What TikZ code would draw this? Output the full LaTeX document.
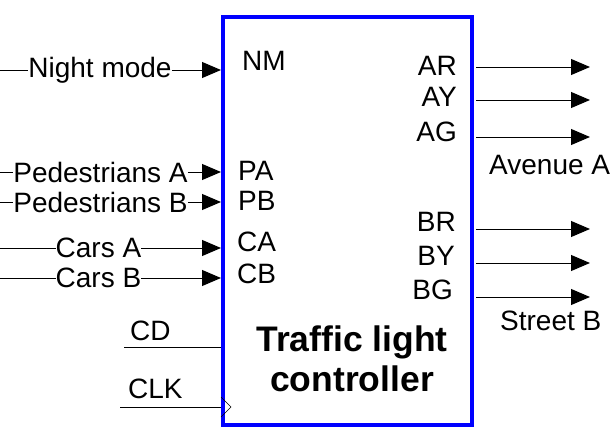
\documentclass[tikz,border=0pt]{standalone}
\usepackage{fontspec}
\setmainfont{Liberation Sans}
\usetikzlibrary{arrows.meta}

\tikzset{
    ctlbox/.style={draw=blue, line width=3.5pt},
    sig/.style={inner sep=0pt, font=\fontsize{28}{30}\selectfont},
    port/.style={inner sep=0pt, font=\fontsize{28}{30}\selectfont},
    wire/.style={line width=1pt},
    sigarrow/.style={line width=1pt, -{Triangle[length=19pt,width=16pt]}}
}

\begin{document}
\begin{tikzpicture}[x=1pt, y=-1pt]
    \useasboundingbox (0,0) rectangle (616,434);

    % Bloque
    \node[ctlbox, minimum width=249pt, minimum height=408pt, anchor=north west] (ctl) at (221,15) {};
    \node[inner sep=0pt, align=center, font=\fontsize{35.5}{40}\selectfont\bfseries] (title) at (352,359) {Traffic light\\controller};

    % Puertos de entrada
    \node[port, anchor=west] (nm) at (242,61) {NM};
    \node[port, anchor=west] (pa) at (238,171) {PA};
    \node[port, anchor=west] (pb) at (238,201) {PB};
    \node[port, anchor=west] (ca) at (237,242) {CA};
    \node[port, anchor=west] (cb) at (237,274) {CB};

    % Entradas
    \coordinate (nmL) at (0,70);   \coordinate (nmR) at (221,70);
    \coordinate (paL) at (0,172);  \coordinate (paR) at (221,172);
    \coordinate (pbL) at (0,202);  \coordinate (pbR) at (221,202);
    \coordinate (caL) at (0,248);  \coordinate (caR) at (221,248);
    \coordinate (cbL) at (0,278);  \coordinate (cbR) at (221,278);

    \node[sig] (night) at (100,70) {Night mode};
    \node[sig] (pedA) at (100.5,172) {Pedestrians A};
    \node[sig] (pedB) at (100.5,202) {Pedestrians B};
    \node[sig] (carA) at (98.5,248) {Cars A};
    \node[sig] (carB) at (98.5,278) {Cars B};

    \draw[wire] (nmL) -- (night.west);
    \draw[sigarrow] (night.east) -- (nmR);
    \draw[wire] (paL) -- (pedA.west);
    \draw[sigarrow] (pedA.east) -- (paR);
    \draw[wire] (pbL) -- (pedB.west);
    \draw[sigarrow] (pedB.east) -- (pbR);
    \draw[wire] (caL) -- (carA.west);
    \draw[sigarrow] (carA.east) -- (caR);
    \draw[wire] (cbL) -- (carB.west);
    \draw[sigarrow] (carB.east) -- (cbR);

    % CD y reloj
    \node[sig, anchor=west] (cd) at (130,331) {CD};
    \node[sig, anchor=west] (clk) at (128,389) {CLK};
    \coordinate (cdL) at (124,347);  \coordinate (cdR) at (221,347);
    \coordinate (clkL) at (120,407); \coordinate (clkR) at (221,407);
    \draw[wire] (cdL) -- (cdR);
    \draw[wire] (clkL) -- (clkR);
    \draw[line width=0.6pt] (221,397) -- (231,407) -- (221,417);

    % Salidas
    \node[port, anchor=east] (ar) at (457,66) {AR};
    \node[port, anchor=east] (ay) at (457,97) {AY};
    \node[port, anchor=east] (ag) at (457,132) {AG};
    \node[port, anchor=east] (br) at (456,222) {BR};
    \node[port, anchor=east] (by) at (455,256) {BY};
    \node[port, anchor=east] (bg) at (453,290) {BG};

    \coordinate (arL) at (476,67);  \coordinate (arR) at (590,67);
    \coordinate (ayL) at (476,100); \coordinate (ayR) at (590,100);
    \coordinate (agL) at (476,137); \coordinate (agR) at (590,137);
    \coordinate (brL) at (476,229); \coordinate (brR) at (590,229);
    \coordinate (byL) at (476,263); \coordinate (byR) at (590,263);
    \coordinate (bgL) at (476,297); \coordinate (bgR) at (590,297);

    \draw[sigarrow] (arL) -- (arR);
    \draw[sigarrow] (ayL) -- (ayR);
    \draw[sigarrow] (agL) -- (agR);
    \draw[sigarrow] (brL) -- (brR);
    \draw[sigarrow] (byL) -- (byR);
    \draw[sigarrow] (bgL) -- (bgR);

    % Etiquetas
    \node[sig, anchor=west] (aveA) at (489,165) {Avenue A};
    \node[sig, anchor=west] (strB) at (500,321) {Street B};

\end{tikzpicture}
\end{document}
